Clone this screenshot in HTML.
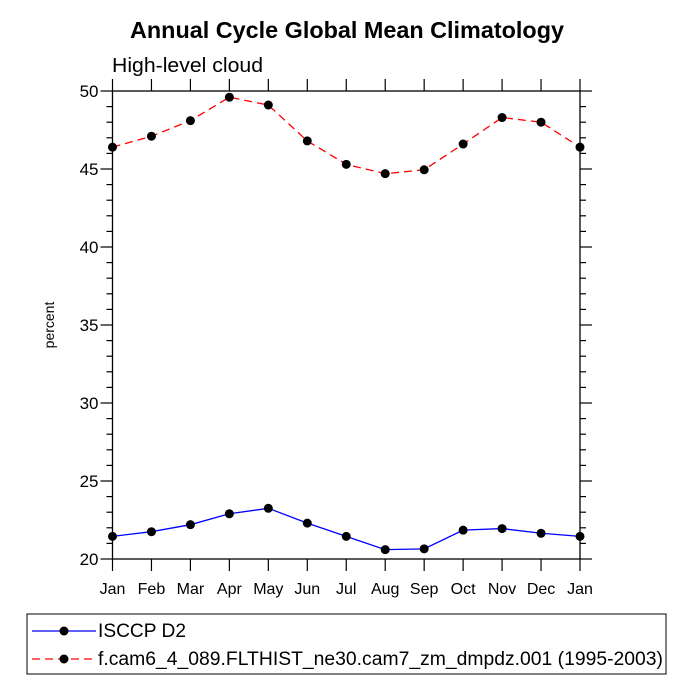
<!DOCTYPE html>
<html><head><meta charset="utf-8"><style>
body{margin:0;background:#fff}
svg text{font-family:"Liberation Sans",sans-serif}
</style></head><body>
<svg id="c" width="694" height="694" xmlns="http://www.w3.org/2000/svg">
<text x="347" y="38" text-anchor="middle" font-size="23" font-weight="bold" textLength="434" lengthAdjust="spacingAndGlyphs">Annual Cycle Global Mean Climatology</text>
<text x="112" y="72" font-size="20" textLength="151" lengthAdjust="spacingAndGlyphs">High-level cloud</text>
<text transform="translate(54,325) rotate(-90)" text-anchor="middle" font-size="14">percent</text>
<g id="axes"></g><g id="series"></g>
<rect x="27" y="614" width="639" height="60" fill="none" stroke="#000" stroke-width="1"/>
<g>
<line x1="32" y1="631" x2="96" y2="631" stroke="#0000ff" stroke-width="1.3"/>
<circle cx="64" cy="631" r="4.5" fill="#000"/>
<text x="98" y="637" font-size="19" textLength="88" lengthAdjust="spacingAndGlyphs">ISCCP D2</text></g>
<g>
<line x1="32" y1="659" x2="96" y2="659" stroke="#ff0000" stroke-width="1.3" stroke-dasharray="8,5"/>
<circle cx="64" cy="659" r="4.5" fill="#000"/>
<text x="98" y="665" font-size="19" textLength="565" lengthAdjust="spacingAndGlyphs">f.cam6_4_089.FLTHIST_ne30.cam7_zm_dmpdz.001 (1995-2003)</text></g>
</svg>
<script>
const months=["Jan","Feb","Mar","Apr","May","Jun","Jul","Aug","Sep","Oct","Nov","Dec","Jan"];
const yTicks=[20,25,30,35,40,45,50];
const isccp=[21.45,21.75,22.2,22.9,23.25,22.3,21.45,20.6,20.65,21.85,21.95,21.65,21.45];
const cam=[46.4,47.1,48.1,49.6,49.1,46.8,45.3,44.7,44.95,46.6,48.3,48.0,46.4];
const L=112.5,R=580,T=91,B=559,ymin=20,ymax=50;
const xs=i=>L+(R-L)*i/(months.length-1);
const ys=v=>B-(v-ymin)/(ymax-ymin)*(B-T);
const NS="http://www.w3.org/2000/svg";
function mk(t,a,p){const e=document.createElementNS(NS,t);for(const k in a)e.setAttribute(k,a[k]);p.appendChild(e);return e;}
const ax=document.getElementById('axes');
const fr=mk('rect',{x:L,y:T,width:R-L,height:B-T,fill:'none',stroke:'#000','stroke-width':1.3},ax);


for(let v=ymin;v<=ymax;v++){const maj=v%5===0,len=maj?12:6,y=ys(v);
mk('line',{x1:L-len,y1:y,x2:L,y2:y,stroke:'#000','stroke-width':1.2},ax);
mk('line',{x1:R,y1:y,x2:R+len,y2:y,stroke:'#000','stroke-width':1.2},ax);}
yTicks.forEach(v=>{const t=mk('text',{x:L-14,y:ys(v)+6,'text-anchor':'end','font-size':17},ax);t.textContent=v;

});
months.forEach((m,i)=>{const x=xs(i);
mk('line',{x1:x,y1:B,x2:x,y2:B+12,stroke:'#000','stroke-width':1.2},ax);
mk('line',{x1:x,y1:T-12,x2:x,y2:T,stroke:'#000','stroke-width':1.2},ax);
const t=mk('text',{x:x,y:B+35,'text-anchor':'middle','font-size':16},ax);t.textContent=m;

});
const sg=document.getElementById('series');
function draw(arr,col,dash,name){const g=mk('g',{},sg);


const a={points:arr.map((v,i)=>xs(i)+','+ys(v)).join(' '),fill:'none',stroke:col,'stroke-width':1.3};if(dash)a['stroke-dasharray']=dash;
mk('polyline',a,g);
arr.forEach((v,i)=>{const c=mk('circle',{cx:xs(i),cy:ys(v),r:4.5,fill:'#000'},g);

});}
draw(isccp,'#0000ff',null,'series-isccp');
draw(cam,'#ff0000','8,5','series-cam6');
</script>
</body></html>
